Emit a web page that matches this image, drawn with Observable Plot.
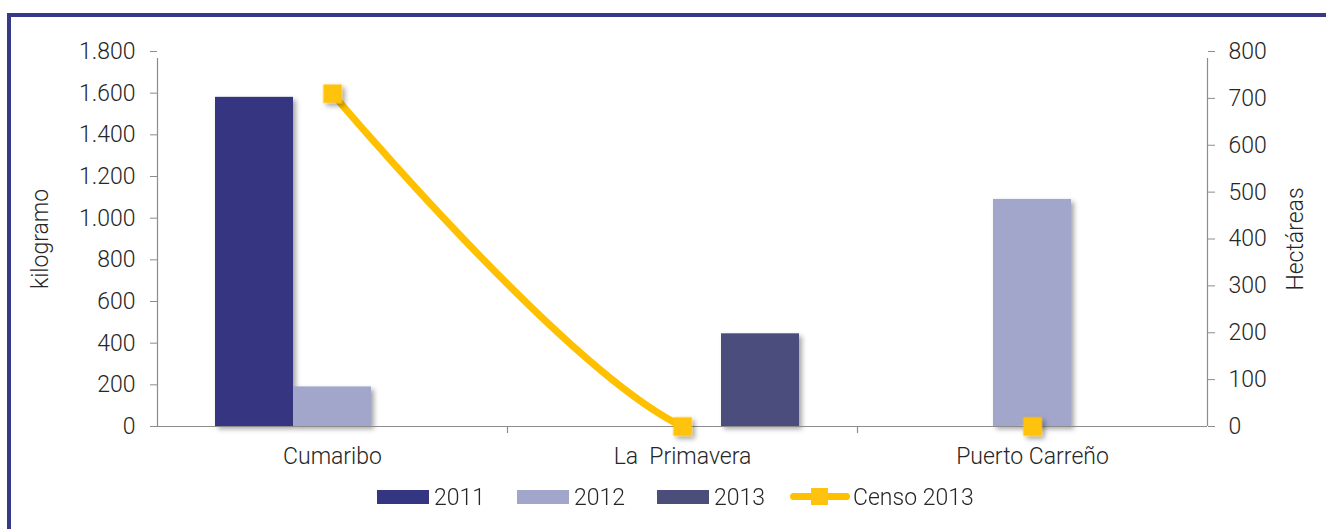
<!DOCTYPE html>
<html>
<head>
<meta charset="utf-8">
<script src="https://cdn.jsdelivr.net/npm/d3@7"></script>
<script src="https://cdn.jsdelivr.net/npm/@observablehq/plot@0.6"></script>
<style>
  html, body { margin: 0; padding: 0; background: #fff; }
  #wrap { position: relative; width: 1326px; height: 529px; overflow: hidden; font-family: Roboto, "Noto Sans", sans-serif; font-weight: 300; color: #262626; }
  #frame { position: absolute; left: 7px; top: 13px; width: 1330px; height: 530px; border-left: 4px solid #363A86; border-top: 4px solid #363A86; box-sizing: border-box; pointer-events: none; }
  #chart { position: absolute; left: 0; top: 0; }
  #chart svg text { white-space: pre; }
  .legend-item { position: absolute; top: 484px; height: 26px; display: flex; align-items: center; font-size: 23px; white-space: nowrap; }
  .sw { width: 52px; height: 14px; margin-right: 5px; }
  .lsw { position: relative; width: 60px; height: 20px; margin-right: 3px; }
  .lsw .ln { position: absolute; left: 0; right: 0; top: 6px; height: 7px; border-radius: 4px; background: #FFC000; }
  .lsw .mk { position: absolute; left: 21px; top: 1px; width: 17px; height: 17px; background: #FFC20E; }
</style>
</head>
<body>
<div id="wrap">
  <div id="chart"></div>
  <div id="frame"></div>
  <div id="legend"></div>
</div>
<script>
// ---- data ----
const categories = ["Cumaribo", "La  Primavera", "Puerto Carreño"];
const kg2011 = [1580, 0, 0];
const kg2012 = [190, 0, 1090];
const kg2013 = [0, 445, 0];
const censo2013Ha = [710, 0, 0];
const seriesNames = ["2011", "2012", "2013", "Censo 2013"];
const seriesColors = ["#353681", "#A2A6CB", "#4B4E7B", "#FFC000"];
const kgTicks = [0, 200, 400, 600, 800, 1000, 1200, 1400, 1600, 1800];
const haTicks = [0, 100, 200, 300, 400, 500, 600, 700, 800];
const leftLabel = "kilogramo";
const rightLabel = "Hectáreas";

// ---- layout ----
const W = 1326, H = 529;
const mL = 157, mR = 119, mT = 51, mB = 103;
const KG_PER_HA = 1800 / 800;
const band = (W - mL - mR) / categories.length;
const barW = 78;
const inset = (band - barW) / 2;

const fmt = d3.formatLocale({decimal: ",", thousands: ".", grouping: [3], currency: ["$", ""]}).format(",d");
const rows = vals => categories.map((c, i) => ({cat: c, v: vals[i]})).filter(d => d.v > 0);
const lineRows = categories.map((c, i) => ({cat: c, v: censo2013Ha[i] * KG_PER_HA}));

const axisGray = "#8C8C8C";
const textCol = "#262626";

const plot = Plot.plot({
  width: W, height: H,
  marginLeft: mL, marginRight: mR, marginTop: mT, marginBottom: mB,
  style: {fontFamily: "Roboto, 'Noto Sans', sans-serif", fontSize: "23px", fontWeight: 300, color: textCol, background: "transparent"},
  x: {type: "band", domain: categories, padding: 0, axis: null},
  y: {domain: [0, 1800], axis: null},
  marks: [
    // bars
    Plot.barY(rows(kg2011), {x: "cat", y: "v", fill: seriesColors[0], insetLeft: inset, insetRight: inset, dx: -barW, className: "shadowed"}),
    Plot.barY(rows(kg2012), {x: "cat", y: "v", fill: seriesColors[1], insetLeft: inset, insetRight: inset, className: "shadowed"}),
    Plot.barY(rows(kg2013), {x: "cat", y: "v", fill: seriesColors[2], insetLeft: inset, insetRight: inset, dx: barW, className: "shadowed"}),
    // axes lines
    Plot.ruleY([0], {stroke: axisGray, strokeWidth: 1.2}),
    Plot.ruleX([categories[0]], {x: d => d, y1: 0, y2: 1800, insetBottom: -7, dx: -band / 2, stroke: axisGray, strokeWidth: 1.2}),
    Plot.ruleX([categories[categories.length - 1]], {x: d => d, y1: 0, y2: 1800, insetBottom: -7, dx: band / 2, stroke: axisGray, strokeWidth: 1.2}),
    Plot.ruleX(categories.slice(1), {x: d => d, y1: 0, y2: 0, insetBottom: -7, dx: -band / 2, stroke: axisGray, strokeWidth: 1.2}),
    // left axis
    Plot.axisY(kgTicks, {anchor: "left", tickSize: 7, tickPadding: 15, tickFormat: fmt, label: null, stroke: axisGray, fill: textCol}),
    // right axis
    Plot.axisY(haTicks.map(h => h * KG_PER_HA), {anchor: "right", tickSize: 7, tickPadding: 14, tickFormat: d => String(Math.round(d / KG_PER_HA)), label: null, stroke: axisGray, fill: textCol}),
    // x labels
    Plot.axisX(categories, {anchor: "bottom", tickSize: 0, tickPadding: 21, label: null, fill: textCol}),
    // axis titles
    Plot.text([leftLabel], {text: d => d, frameAnchor: "left", textAnchor: "middle", dx: -117, rotate: -90, fill: textCol}),
    Plot.text([rightLabel], {text: d => d, frameAnchor: "right", textAnchor: "middle", dx: 88, rotate: -90, fill: textCol}),
    // line
    Plot.line(lineRows, {x: "cat", y: "v", curve: "cardinal", tension: 0, stroke: seriesColors[3], strokeWidth: 7, clip: true, strokeLinejoin: "round"}),
    Plot.dot(lineRows, {x: "cat", y: "v", symbol: "square", r: 10.5, fill: "#FFC20E", stroke: "none", className: "shadowed"})
  ]
});

// drop shadow filter
const ns = "http://www.w3.org/2000/svg";
const defs = document.createElementNS(ns, "defs");
defs.innerHTML = '<filter id="shd" x="-30%" y="-30%" width="170%" height="170%"><feDropShadow dx="3" dy="3" stdDeviation="2.5" flood-color="#000" flood-opacity="0.35"/></filter>';
plot.insertBefore(defs, plot.firstChild);
plot.querySelectorAll(".shadowed").forEach(g => g.setAttribute("filter", "url(#shd)"));
document.getElementById("chart").appendChild(plot);

// legend
const legendLefts = [377, 517, 657, 790];
const legend = document.getElementById("legend");
seriesNames.forEach((name, i) => {
  const item = document.createElement("div");
  item.className = "legend-item";
  item.style.left = legendLefts[i] + "px";
  if (i < 3) {
    item.innerHTML = `<div class="sw" style="background:${seriesColors[i]}"></div><span>${name}</span>`;
  } else {
    item.innerHTML = `<div class="lsw"><div class="ln"></div><div class="mk"></div></div><span>${name}</span>`;
  }
  legend.appendChild(item);
});
</script>
</body>
</html>
